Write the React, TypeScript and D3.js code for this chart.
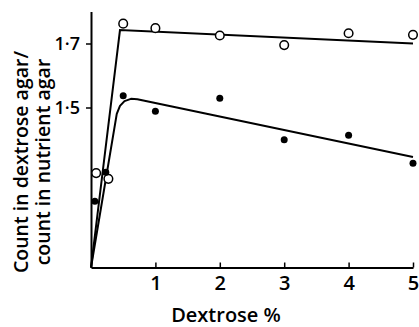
import React, { useEffect, useRef } from 'react';
import * as d3 from 'd3';

// dextrose % readings, open circles (upper) and filled dots (lower)
const openX = [0.08, 0.27, 0.5, 1, 2, 3, 4, 5];
const openY = [1.295, 1.277, 1.762, 1.748, 1.725, 1.695, 1.732, 1.727];
const filledX = [0.06, 0.23, 0.5, 1, 2, 3, 4, 5];
const filledY = [1.207, 1.298, 1.537, 1.488, 1.529, 1.399, 1.413, 1.326];

// fitted curves as drawn by hand
const openFitX = [0, 0.45, 5];
const openFitY = [1.0, 1.742, 1.7];
const filledFitX = [0, 0.4, 0.45, 0.52, 0.62, 0.72, 5];
const filledFitY = [1.0, 1.48, 1.505, 1.52, 1.527, 1.526, 1.345];

const xTicks = [1, 2, 3, 4, 5];
const yTicks = [1.5, 1.7];
const yTitle = ['Count in dextrose agar/', 'count in nutrient agar'];
const xTitle = 'Dextrose %';

const App: React.FC = () => {
  const ref = useRef<SVGSVGElement | null>(null);

  useEffect(() => {
    const W = 419;
    const H = 327;
    const svg = d3.select(ref.current).attr('width', W).attr('height', H);
    svg.selectAll('*').remove();

    const x = d3.scaleLinear().domain([0, 5]).range([91, 413]);
    const y = d3.scaleLinear().domain([1.0, 1.8]).range([267.5, 11.5]);
    const font = '"Open Sans", sans-serif';

    const yAxis = svg.append('g')
      .attr('transform', `translate(${x(0)},0)`)
      .call(d3.axisLeft(y).tickValues(yTicks).tickSize(5).tickSizeOuter(0).tickPadding(6)
        .tickFormat(d => d3.format('.1f')(d as number).replace('.', '·')));
    yAxis.select('.domain').attr('stroke-width', 2);
    yAxis.selectAll('.tick line').attr('stroke-width', 1.5);
    yAxis.selectAll('.tick text')
      .style('font-family', font).style('font-size', '18px').style('font-weight', 600).attr('fill', '#000');

    const xAxis = svg.append('g')
      .attr('transform', `translate(0,${y(1.0)})`)
      .call(d3.axisBottom(x).tickValues(xTicks).tickSize(-5).tickSizeOuter(0).tickPadding(8)
        .tickFormat(d3.format('d')));
    xAxis.select('.domain').attr('stroke-width', 2);
    xAxis.selectAll('.tick line').attr('stroke-width', 1.5);
    xAxis.selectAll('.tick text')
      .style('font-family', font).style('font-size', '20px').style('font-weight', 600).attr('fill', '#000');

    const line = d3.line<[number, number]>().x(d => x(d[0])).y(d => y(d[1]));

    svg.append('path')
      .datum(openFitX.map((v, i) => [v, openFitY[i]] as [number, number]))
      .attr('fill', 'none').attr('stroke', '#000').attr('stroke-width', 2)
      .attr('d', line);
    svg.append('path')
      .datum(filledFitX.map((v, i) => [v, filledFitY[i]] as [number, number]))
      .attr('fill', 'none').attr('stroke', '#000').attr('stroke-width', 2)
      .attr('stroke-linejoin', 'round')
      .attr('d', line);

    svg.selectAll('circle.open')
      .data(openX.map((v, i) => [v, openY[i]]))
      .join('circle')
      .attr('class', 'open')
      .attr('cx', d => x(d[0])).attr('cy', d => y(d[1])).attr('r', 4.3)
      .attr('fill', '#fff').attr('stroke', '#000').attr('stroke-width', 1.5);

    svg.selectAll('circle.filled')
      .data(filledX.map((v, i) => [v, filledY[i]]))
      .join('circle')
      .attr('class', 'filled')
      .attr('cx', d => x(d[0])).attr('cy', d => y(d[1])).attr('r', 3.5)
      .attr('fill', '#000');

    svg.append('text')
      .attr('x', 226).attr('y', 322)
      .attr('text-anchor', 'middle')
      .style('font-family', font).style('font-size', '20px').style('font-weight', 600)
      .text(xTitle);

    yTitle.forEach((t, i) => {
      svg.append('text')
        .attr('transform', `translate(${28 + i * 22},162) rotate(-90)`)
        .attr('text-anchor', 'middle')
        .style('font-family', font).style('font-size', '19.5px').style('font-weight', 600)
        .text(t);
    });
  }, []);

  return (
    <div style={{ position: 'absolute', left: 0, top: 0, background: '#fff' }}>
      <svg ref={ref}></svg>
    </div>
  );
};

export default App;
